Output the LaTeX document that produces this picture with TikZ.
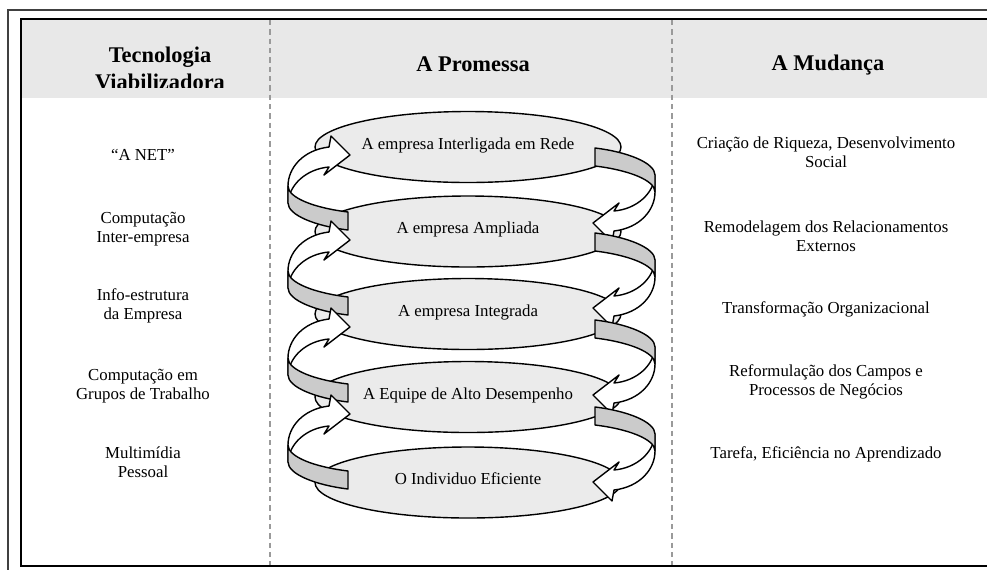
\documentclass[tikz,border=0pt]{standalone}
\usepackage{fontspec}
\setmainfont{Liberation Serif}
\usetikzlibrary{shapes.geometric}
\definecolor{bandgray}{HTML}{E8E8E8}
\definecolor{ellgray}{HTML}{EBEBEB}
\definecolor{ribgraycol}{HTML}{CBCBCB}
\definecolor{dashgray}{HTML}{9A9A9A}
\newcommand\ribbonshape{%
  \filldraw[ribw] (288,39) .. controls (288,21) and (303,3) .. (329,0) -- (331,-11) -- (350,8) -- (324,28) -- (329,20) .. controls (306,22) and (289,38) .. (288,56) -- cycle;
  \filldraw[ribg] (288,39) .. controls (288,51) and (315,61) .. (348,65) -- (348,83) .. controls (315,79) and (288,68) .. (288,56) -- cycle;
}
\newcommand\leftribbon[1]{\begin{scope}[shift={(0,#1)}]\ribbonshape\end{scope}}
\newcommand\rightribbon[1]{\begin{scope}[shift={(0,#1)},rotate around={180:(471.5,42)}]\ribbonshape\end{scope}}
\begin{document}
\begin{tikzpicture}[x=0.75pt,y=-0.75pt,
  ell/.style={ellipse, draw=black, fill=ellgray, line width=1.05pt, minimum width=229.5pt, minimum height=53.25pt, inner sep=0pt, text height=7.5pt, text depth=4.5pt, font=\fontsize{12.6}{14.5}\selectfont},
  body/.style={align=center, inner sep=0pt, font=\fontsize{12.6}{14.5}\selectfont},
  head/.style={align=center, inner sep=0pt, font=\bfseries\fontsize{16.8}{20.25}\selectfont},
  ribw/.style={fill=white, draw=black, line width=1.05pt, line join=round},
  ribg/.style={fill=ribgraycol, draw=black, line width=1.05pt, line join=round},
  sep/.style={draw=dashgray, line width=0.8pt, dash pattern=on 4pt off 3pt}
]
\useasboundingbox (0,0) rectangle (987,569);
\clip (0,0) rectangle (987,569);
\fill[bandgray] (21,19) rectangle (1000,98);
\draw[line width=1.1pt, draw=black!75] (8,10) rectangle (1010,620);
\draw[line width=1.5pt] (21,19) rectangle (1010,565.5);
\draw[sep] (270,20) -- (270,565);
\draw[sep] (672,20) -- (672,565);
% headers
\begin{scope}
  \clip (21,19) rectangle (270,87);
  \node[head] (h1) at (160,68) {Tecnologia\\Viabilizadora};
\end{scope}
\node[head] (h2) at (473,64) {A Promessa};
\node[head] (h3) at (828,65.5) {A Mudança};
% ellipses
\node[ell] (e1) at (468,147) {A empresa Interligada em Rede};
\node[ell] (e2) at (468,231.5) {A empresa Ampliada};
\node[ell] (e3) at (468,314) {A empresa Integrada};
\node[ell] (e4) at (468,397) {A Equipe de Alto Desempenho};
\node[ell] (e5) at (468,482.5) {O Individuo Eficiente};
% ribbons
\leftribbon{147}\rightribbon{147}
\leftribbon{232}\rightribbon{232}
\leftribbon{319}\rightribbon{319}
\leftribbon{406}\rightribbon{406}
% left column
\node[body] (t1) at (143,155) {“A NET”};
\node[body] (t2) at (143,229) {Computação\\Inter-empresa};
\node[body] (t3) at (143,306) {Info-estrutura\\da Empresa};
\node[body] (t4) at (143,386) {Computação em\\Grupos de Trabalho};
\node[body] (t5) at (143,462) {Multimídia\\Pessoal};
% right column
\node[body] (r1) at (826,152.5) {Criação de Riqueza, Desenvolvimento\\Social};
\node[body] (r2) at (826,236.5) {Remodelagem dos Relacionamentos\\Externos};
\node[body] (r3) at (826,309.5) {Transformação Organizacional};
\node[body] (r4) at (826,382) {Reformulação dos Campos e\\Processos de Negócios};
\node[body] (r5) at (826,454.5) {Tarefa, Eficiência no Aprendizado};
\end{tikzpicture}
\end{document}
